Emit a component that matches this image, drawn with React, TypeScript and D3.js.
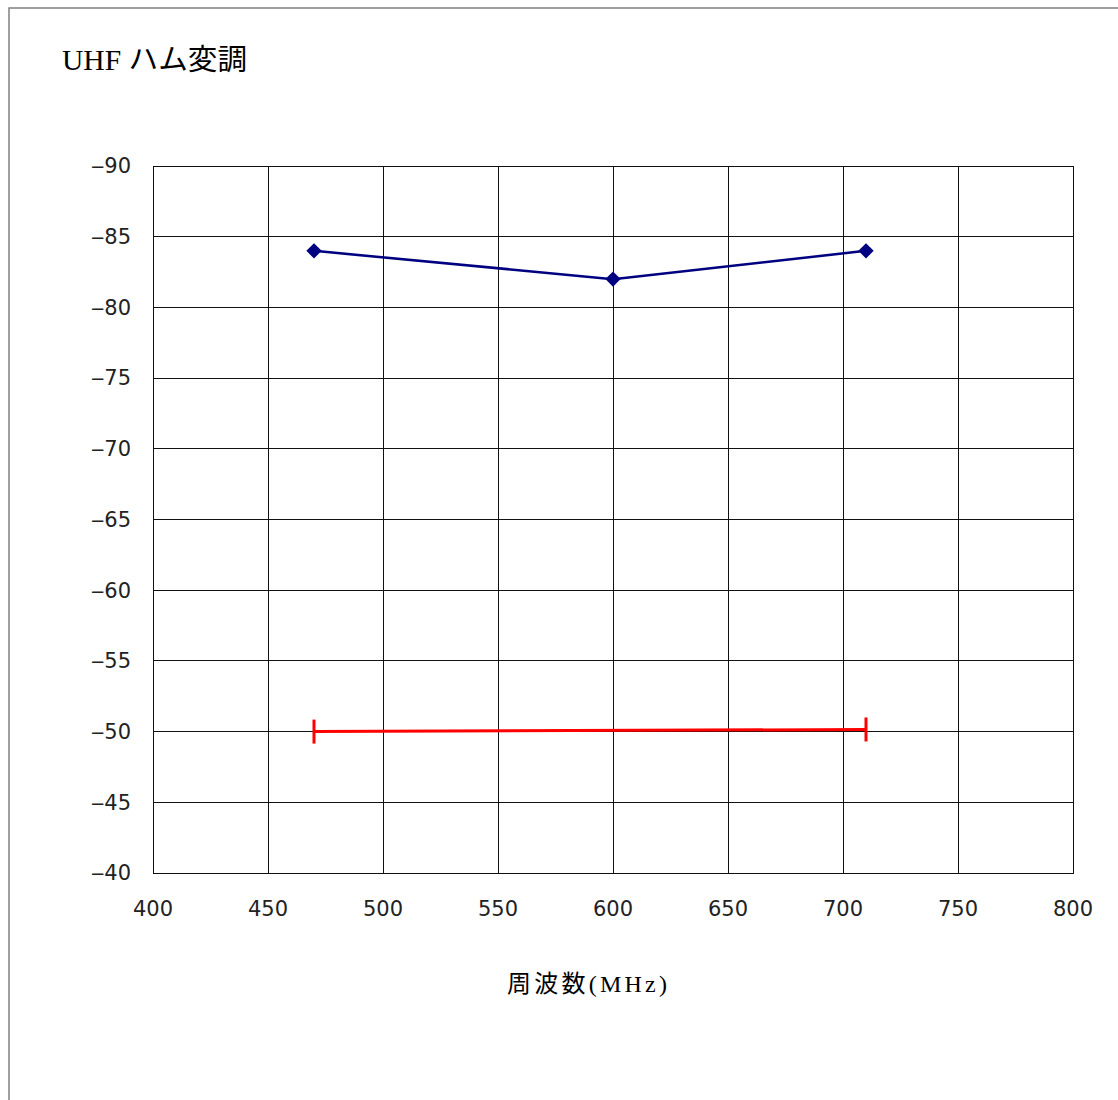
import React from "react";
import * as d3 from "d3";

const title = "UHF ハム変調";
const xAxisTitle = "周波数(MHz)";
const xTicks = [400, 450, 500, 550, 600, 650, 700, 750, 800];
const yTicks = [-90, -85, -80, -75, -70, -65, -60, -55, -50, -45, -40];
const blueX = [470, 600, 710];
const blueY = [-84, -82, -84];
const redX = [470, 710];
const redY = [-50, -50.15];

const W = 1118, H = 1100;
const left = 153, right = 1073, top = 166, bottom = 873;

export default function App() {
  const x = d3.scaleLinear().domain([400, 800]).range([left, right]);
  const y = d3.scaleLinear().domain([-90, -40]).range([top, bottom]);
  const line = d3.line<[number, number]>().x(d => x(d[0])).y(d => y(d[1]));
  const blue: [number, number][] = blueX.map((v, i) => [v, blueY[i]]);
  const red: [number, number][] = redX.map((v, i) => [v, redY[i]]);
  const sans = "'DejaVu Sans', 'Noto Sans CJK JP', sans-serif";
  const serif = "'Liberation Serif', 'Noto Sans CJK JP', serif";
  return (
    <svg width={W} height={H} style={{ position: "absolute", left: 0, top: 0, background: "#fff" }}>
      <rect x={9} y={8} width={W + 10} height={H + 10} fill="#fff" stroke="#808080" strokeWidth={1.5} />
      <text x={62} y={70} fontFamily={serif} fontSize={29} fill="#000" textLength={185} lengthAdjust="spacingAndGlyphs">{title}</text>
      {xTicks.map(t => (
        <line key={"gx" + t} x1={x(t)} x2={x(t)} y1={top} y2={bottom} stroke="#111" strokeWidth={1} shapeRendering="crispEdges" />
      ))}
      {yTicks.map(t => (
        <line key={"gy" + t} x1={left} x2={right} y1={y(t)} y2={y(t)} stroke="#111" strokeWidth={1} shapeRendering="crispEdges" />
      ))}
      <rect x={left} y={top} width={right - left} height={bottom - top} fill="none" stroke="#111" strokeWidth={1} shapeRendering="crispEdges" />
      {yTicks.map(t => (
        <text key={"ly" + t} x={131} y={y(t)} dy="0.35em" textAnchor="end" fontFamily={sans} fontSize={21} fill="#222">
          {"\u2012" + Math.abs(t)}
        </text>
      ))}
      {xTicks.map(t => (
        <text key={"lx" + t} x={x(t)} y={909} dy="0.35em" textAnchor="middle" fontFamily={sans} fontSize={21} fill="#222">
          {t}
        </text>
      ))}
      <text x={587} y={992} textAnchor="middle" fontFamily={serif} fontSize={24} fill="#000" textLength={160} lengthAdjust="spacing">{xAxisTitle}</text>
      <path d={line(blue) || ""} fill="none" stroke="#000080" strokeWidth={2.5} />
      {blue.map((d, i) => (
        <path key={"b" + i} d={d3.symbol(d3.symbolDiamond2, 150)() || ""} transform={`translate(${x(d[0])},${y(d[1])})`} fill="#000080" />
      ))}
      <path d={line(red) || ""} fill="none" stroke="#ff0000" strokeWidth={3} />
      {red.map((d, i) => (
        <line key={"r" + i} x1={x(d[0])} x2={x(d[0])} y1={y(d[1]) - 12} y2={y(d[1]) + 12} stroke="#ff0000" strokeWidth={3} />
      ))}
    </svg>
  );
}
